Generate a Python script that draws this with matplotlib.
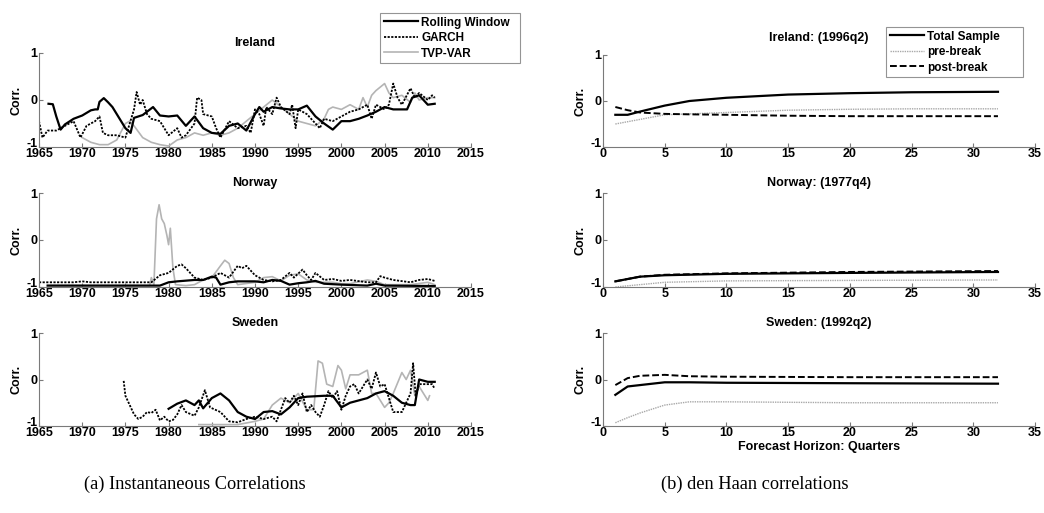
import matplotlib
matplotlib.use("Agg")
import matplotlib.pyplot as plt

# ---------------- Instantaneous correlations (years, values) ----------------
ire_roll_yr = [1966.1, 1966.6, 1967.0, 1967.5, 1968, 1969, 1970, 1971, 1971.5, 1971.8, 1972, 1972.5,
               1973, 1973.5, 1974, 1974.5, 1975, 1975.6, 1976, 1977, 1978.2, 1979, 1980, 1981,
               1982, 1983, 1984, 1985, 1986, 1987, 1988, 1989, 1990, 1990.5, 1991, 1992, 1993,
               1994, 1995, 1996, 1997, 1998, 1999, 2000, 2001, 2002, 2003, 2004, 2005, 2006,
               2007, 2007.6, 2008.2, 2009, 2010, 2010.8]
ire_roll = [-0.08, -0.09, -0.35, -0.63, -0.52, -0.4, -0.33, -0.22, -0.2, -0.2, -0.04, 0.04,
            -0.05, -0.15, -0.3, -0.45, -0.6, -0.7, -0.38, -0.32, -0.15, -0.33, -0.35, -0.33,
            -0.55, -0.35, -0.6, -0.7, -0.72, -0.55, -0.5, -0.65, -0.3, -0.15, -0.25, -0.15, -0.18,
            -0.2, -0.2, -0.12, -0.35, -0.5, -0.63, -0.45, -0.45, -0.4, -0.33, -0.25, -0.15, -0.2,
            -0.2, -0.2, 0.05, 0.1, -0.1, -0.08]

ire_garch_yr = [1965, 1965.4, 1966, 1967, 1968, 1969, 1969.8, 1970.5, 1971.5, 1972, 1972.4, 1973,
                1974, 1975, 1975.5, 1976, 1976.3, 1976.7, 1977, 1977.5, 1978, 1979, 1980, 1981,
                1981.5, 1982, 1983, 1983.3, 1983.8, 1984, 1985, 1985.5, 1986, 1987, 1988, 1989,
                1989.5, 1990, 1990.5, 1991, 1991.3, 1992, 1992.5, 1993, 1994, 1994.3, 1994.7,
                1995, 1996, 1997, 1997.5, 1998, 1999, 2000, 2001, 2002, 2003, 2003.5, 2004, 2005,
                2005.5, 2006, 2006.5, 2007, 2008, 2008.5, 2009, 2010, 2010.5, 2010.8]
ire_garch = [-0.45, -0.8, -0.65, -0.65, -0.55, -0.45, -0.8, -0.55, -0.45, -0.35, -0.7, -0.75,
             -0.75, -0.8, -0.5, -0.2, 0.17, -0.1, 0.0, -0.3, -0.4, -0.45, -0.75, -0.6,
             -0.8, -0.75, -0.5, 0.05, 0.0, -0.3, -0.35, -0.6, -0.8, -0.45, -0.6, -0.55,
             -0.7, -0.2, -0.3, -0.55, -0.15, -0.3, 0.05, -0.15, -0.3, -0.1, -0.6,
             -0.2, -0.3, -0.5, -0.6, -0.4, -0.45, -0.35, -0.25, -0.2, -0.1, -0.4, -0.1, -0.2,
             -0.1, 0.35, 0.05, -0.1, 0.25, 0.05, 0.15, 0.0, 0.1, 0.05]

ire_tvp_yr = [1970, 1971, 1972, 1973, 1974, 1975, 1975.5, 1976, 1977, 1978, 1979, 1980, 1981,
              1982, 1983, 1984, 1985, 1986, 1987, 1988, 1989, 1990, 1991, 1992, 1993, 1994,
              1995, 1996, 1997, 1998, 1998.5, 1999, 2000, 2001, 2002, 2002.5, 2003, 2003.5,
              2004, 2005, 2005.5, 2006, 2007, 2008, 2008.5, 2009, 2010, 2010.8]
ire_tvp = [-0.8, -0.9, -0.95, -0.95, -0.85, -0.5, -0.45, -0.55, -0.8, -0.9, -0.95, -0.98, -0.85,
           -0.8, -0.7, -0.75, -0.7, -0.75, -0.7, -0.6, -0.45, -0.3, -0.15, 0.0, -0.15, -0.3,
           -0.45, -0.5, -0.55, -0.4, -0.2, -0.15, -0.2, -0.1, -0.2, 0.05, -0.15, 0.1,
           0.2, 0.35, 0.15, 0.05, 0.1, -0.05, 0.15, 0.0, 0.05, 0.05]

nor_roll_yr = [1966, 1979, 1980, 1981, 1983, 1984, 1985, 1985.5, 1986, 1987, 1988, 1990, 1991,
               1992, 1993, 1994, 1995, 1996, 1997, 1998, 2000, 2003, 2004, 2005, 2010.8]
nor_roll = [-0.97, -0.97, -0.9, -0.88, -0.85, -0.85, -0.78, -0.8, -0.95, -0.9, -0.88, -0.88, -0.9,
            -0.85, -0.87, -0.95, -0.92, -0.9, -0.87, -0.93, -0.95, -0.97, -0.93, -0.97, -0.98]

nor_garch_yr = [1965, 1969, 1970, 1971, 1978, 1979, 1980, 1981, 1981.5, 1982, 1983, 1984, 1985,
                1986, 1987, 1988, 1988.5, 1989, 1990, 1991, 1992, 1993, 1994, 1994.5, 1995.5,
                1996, 1996.5, 1997, 1998, 1999, 2000, 2001, 2003, 2004, 2004.5, 2005, 2006,
                2008, 2009, 2010, 2010.8]
nor_garch = [-0.9, -0.9, -0.88, -0.9, -0.9, -0.75, -0.7, -0.55, -0.52, -0.6, -0.8, -0.85, -0.8,
             -0.7, -0.8, -0.55, -0.6, -0.55, -0.75, -0.85, -0.88, -0.85, -0.7, -0.8, -0.63,
             -0.75, -0.85, -0.7, -0.85, -0.83, -0.87, -0.85, -0.9, -0.9, -0.77, -0.8, -0.85,
             -0.9, -0.85, -0.83, -0.87]

nor_tvp_yr = [1966, 1977.8, 1978.0, 1978.3, 1978.6, 1978.9, 1979.2, 1979.5, 1979.8, 1980.0,
              1980.2, 1980.5, 1980.8, 1982, 1983, 1984, 1985, 1986, 1986.5, 1987, 1987.5, 1988,
              1990, 1991, 1992, 1993, 1994, 1995, 1996, 1997, 1999, 2000, 2001, 2003, 2004,
              2005, 2008, 2010, 2010.8]
nor_tvp = [-0.97, -0.97, -0.8, -0.95, 0.45, 0.75, 0.45, 0.35, 0.1, -0.1,
           0.25, -0.6, -0.95, -0.97, -0.95, -0.85, -0.8, -0.55, -0.43, -0.5, -0.8, -0.95,
           -0.9, -0.8, -0.78, -0.87, -0.75, -0.72, -0.85, -0.9, -0.9, -0.93, -0.93, -0.85, -0.88,
           -0.95, -0.95, -0.9, -0.95]

swe_roll_yr = [1980, 1981, 1982, 1983, 1983.5, 1984, 1985, 1986, 1987, 1988, 1989, 1990, 1991,
               1992, 1993, 1994, 1995, 1996, 1998, 1999, 2000, 2001, 2002, 2003, 2004, 2005,
               2006, 2007, 2008, 2008.5, 2009, 2010, 2010.8]
swe_roll = [-0.63, -0.52, -0.45, -0.55, -0.45, -0.62, -0.4, -0.3, -0.45, -0.7, -0.8, -0.85, -0.7,
            -0.68, -0.75, -0.6, -0.4, -0.37, -0.35, -0.35, -0.6, -0.5, -0.45, -0.4, -0.3, -0.25,
            -0.35, -0.5, -0.55, -0.55, 0.0, -0.05, -0.05]

swe_garch_yr = [1974.8, 1975, 1975.5, 1976, 1976.5, 1977, 1977.5, 1978, 1978.5, 1979, 1979.5,
                1980, 1980.5, 1981, 1981.5, 1982, 1983, 1983.5, 1984.2, 1984.8, 1986, 1987,
                1988, 1989, 1990, 1991, 1992, 1992.5, 1993, 1993.5, 1994, 1994.5, 1995, 1995.5,
                1996, 1996.5, 1997, 1997.5, 1998, 1998.5, 1999, 1999.5, 2000, 2000.5, 2001,
                2001.5, 2002, 2003, 2003.5, 2004, 2004.5, 2005, 2005.5, 2006, 2007, 2007.5,
                2008, 2008.3, 2008.6, 2009, 2010, 2010.5, 2010.8]
swe_garch = [-0.03, -0.35, -0.55, -0.75, -0.85, -0.8, -0.7, -0.72, -0.65, -0.88, -0.8,
             -0.9, -0.87, -0.75, -0.55, -0.7, -0.78, -0.6, -0.23, -0.6, -0.7, -0.9,
             -0.92, -0.85, -0.8, -0.85, -0.8, -0.9, -0.65, -0.4, -0.5, -0.35, -0.55, -0.3,
             -0.7, -0.55, -0.7, -0.8, -0.55, -0.25, -0.4, -0.25, -0.65, -0.35, -0.15,
             -0.1, -0.3, 0.0, -0.2, 0.15, -0.15, -0.1, -0.4, -0.7, -0.7, -0.5,
             -0.3, 0.35, -0.35, -0.1, -0.1, -0.1, -0.2]

swe_tvp_yr = [1983.5, 1985, 1988, 1990, 1991, 1992, 1993, 1994, 1995, 1996, 1996.8, 1997.3,
              1997.8, 1998.3, 1999, 1999.6, 2000, 2000.5, 2001, 2002, 2003, 2003.5, 2004, 2005,
              2005.5, 2006, 2007, 2007.5, 2008, 2008.5, 2009, 2010, 2010.2]
swe_tvp = [-0.97, -0.97, -0.97, -0.9, -0.85, -0.55, -0.4, -0.5, -0.3, -0.65, -0.65, 0.4,
           0.35, -0.1, -0.15, 0.3, 0.2, -0.2, 0.1, 0.1, 0.2, -0.3, -0.3, -0.6,
           -0.5, -0.3, 0.15, 0.0, 0.2, -0.35, -0.15, -0.45, -0.35]

# ---------------- den Haan correlations (horizon, values) ----------------
horizon_ire = [1, 2, 3, 5, 7, 10, 15, 20, 25, 32]
ire_total = [-0.3, -0.3, -0.23, -0.1, 0.0, 0.07, 0.14, 0.17, 0.19, 0.2]
ire_pre = [-0.5, -0.45, -0.4, -0.3, -0.28, -0.25, -0.2, -0.18, -0.17, -0.17]
ire_post = [-0.13, -0.2, -0.25, -0.28, -0.29, -0.3, -0.32, -0.33, -0.33, -0.33]

horizon_nor = [1, 3, 5, 10, 20, 32]
nor_total = [-0.88, -0.78, -0.75, -0.72, -0.7, -0.68]
nor_pre = [-1.0, -0.95, -0.9, -0.87, -0.86, -0.85]
nor_post = [-0.88, -0.78, -0.74, -0.71, -0.68, -0.66]

horizon_swe = [1, 2, 3, 5, 7, 10, 20, 32]
swe_total = [-0.33, -0.15, -0.12, -0.06, -0.06, -0.07, -0.08, -0.09]
swe_pre = [-0.93, -0.82, -0.72, -0.55, -0.48, -0.48, -0.5, -0.5]
swe_post = [-0.12, 0.03, 0.08, 0.1, 0.07, 0.06, 0.05, 0.05]

left_titles = ["Ireland", "Norway", "Sweden"]
right_titles = ["Ireland: (1996q2)", "Norway: (1977q4)", "Sweden: (1992q2)"]
year_ticks = [1965, 1970, 1975, 1980, 1985, 1990, 1995, 2000, 2005, 2010, 2015]
horizon_ticks = [0, 5, 10, 15, 20, 25, 30, 35]

plt.rcParams["font.family"] = ["Liberation Sans", "DejaVu Sans"]
plt.rcParams["font.weight"] = "bold"

W, H = 1044, 513
fig = plt.figure(figsize=(W / 100, H / 100), dpi=100)

GRAY_LINE = "#b4b4b4"
SPINE = "#7a7a7a"
FS = 9


def make_axes(x0, x1, top, bottom):
    ax = fig.add_axes([x0 / W, 1 - bottom / H, (x1 - x0) / W, (bottom - top) / H])
    for s in ("top", "right"):
        ax.spines[s].set_visible(False)
    for s in ("left", "bottom"):
        ax.spines[s].set_color(SPINE)
        ax.spines[s].set_linewidth(0.8)
    ax.tick_params(direction="in", length=3, width=0.8, color=SPINE,
                   labelsize=FS, pad=1)
    ax.set_ylim(-1, 1)
    ax.set_yticks([-1, 0, 1])
    ax.set_yticklabels(["-1", "0", "1"], fontweight="bold")
    # sit the bottom label on its tick so it clears the first x tick label
    ax.get_yticklabels()[0].set_verticalalignment("baseline")
    ax.set_ylabel("Corr.", fontsize=FS, fontweight="bold", labelpad=3)
    return ax


def boxed_legend(ax, handles, left, top, width, height):
    leg = ax.legend(handles=handles, loc="upper left",
                    bbox_to_anchor=(left / W, 1 - (top + height) / H, width / W, height / H),
                    bbox_transform=fig.transFigure, mode="expand",
                    prop={"size": 8.5, "weight": "bold"}, frameon=True, fancybox=False,
                    borderpad=0.3, labelspacing=0.3, handlelength=2.9,
                    handletextpad=0.3, borderaxespad=0)
    leg.get_frame().set_edgecolor(SPINE)
    leg.get_frame().set_linewidth(0.8)
    return leg


rows = [(53, 147), (193, 287), (333, 426)]
left_data = [
    (ire_roll_yr, ire_roll, ire_garch_yr, ire_garch, ire_tvp_yr, ire_tvp),
    (nor_roll_yr, nor_roll, nor_garch_yr, nor_garch, nor_tvp_yr, nor_tvp),
    (swe_roll_yr, swe_roll, swe_garch_yr, swe_garch, swe_tvp_yr, swe_tvp),
]
right_data = [
    (horizon_ire, ire_total, ire_pre, ire_post),
    (horizon_nor, nor_total, nor_pre, nor_post),
    (horizon_swe, swe_total, swe_pre, swe_post),
]

for i, (top, bottom) in enumerate(rows):
    # instantaneous correlations
    ax = make_axes(39, 471, top, bottom)
    ry, rv, gy, gv, ty, tv = left_data[i]
    l3, = ax.plot(ty, tv, color=GRAY_LINE, lw=1.2, label="TVP-VAR")
    l2, = ax.plot(gy, gv, color="black", lw=1.3, ls=(0, (1.2, 0.8)), label="GARCH")
    l1, = ax.plot(ry, rv, color="black", lw=1.6, label="Rolling Window")
    ax.set_xlim(1965, 2015)
    ax.set_xticks(year_ticks)
    ax.set_xticklabels([str(t) for t in year_ticks], fontweight="bold")
    ax.set_title(left_titles[i], fontsize=FS, fontweight="bold", pad=5)
    if i == 0:
        boxed_legend(ax, [l1, l2, l3], 380, 13, 140, 49)

    # den Haan correlations
    ax = make_axes(603, 1035, top + (2 if i == 0 else 0), bottom)
    h, tot, pre, post = right_data[i]
    p2, = ax.plot(h, pre, color="#a8a8a8", lw=1.0, ls=(0, (1, 0.7)), label="pre-break")
    p3, = ax.plot(h, post, color="black", lw=1.4, ls=(0, (3.5, 1.5)), label="post-break")
    p1, = ax.plot(h, tot, color="black", lw=1.6, label="Total Sample")
    ax.set_xlim(0, 35)
    ax.set_xticks(horizon_ticks)
    ax.set_xticklabels([str(t) for t in horizon_ticks], fontweight="bold")
    ax.set_title(right_titles[i], fontsize=FS, fontweight="bold", pad=(10 if i == 0 else 5))
    if i == 2:
        ax.set_xlabel("Forecast Horizon: Quarters", fontsize=FS, fontweight="bold", labelpad=1)
    if i == 0:
        boxed_legend(ax, [p1, p2, p3], 886, 27, 137, 50)

fig.text(195 / W, 1 - 484 / H, "(a) Instantaneous Correlations", ha="center", va="center",
         fontsize=13.2, family="Liberation Serif", fontweight="normal")
fig.text(755 / W, 1 - 484 / H, "(b) den Haan correlations", ha="center", va="center",
         fontsize=13.2, family="Liberation Serif", fontweight="normal")

fig.savefig("out.png", dpi=100)
